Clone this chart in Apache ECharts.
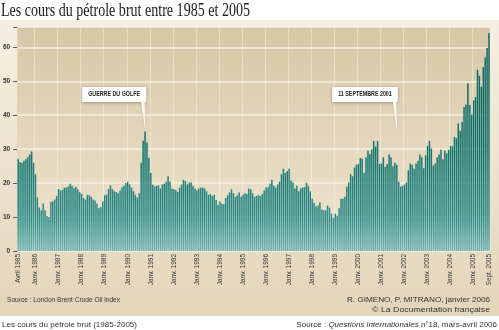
<!DOCTYPE html>
<html><head><meta charset="utf-8">
<script src="https://cdn.jsdelivr.net/npm/echarts@6/dist/echarts.min.js"></script>
<style>html,body{margin:0;padding:0;background:#fff}#c{width:499px;height:330px}</style>
</head><body><div id="c"></div>
<script>
// ---- data ----
const monthNames = ['Janv.','Févr.','Mars','Avril','Mai','Juin','Juil.','Août','Sept.','Oct.','Nov.','Déc.'];
const startYear = 1985, startMonth = 3; // Avril 1985
const y1985 = [27.2, 26.2, 26.0, 26.6, 27.0, 27.6, 28.4, 29.3, 26.0]; // Apr-Dec
const y1986 = [22.6, 15.8, 12.8, 12.0, 14.0, 12.0, 10.3, 10.0, 14.5, 14.6, 15.2, 16.2];
const y1987 = [18.3, 17.8, 18.0, 18.6, 18.7, 19.0, 19.8, 19.2, 18.5, 18.9, 18.2, 17.3];
const y1988 = [16.8, 15.6, 15.2, 16.6, 16.4, 16.0, 15.2, 14.9, 14.0, 12.6, 13.0, 14.6];
const y1989 = [16.4, 16.6, 18.2, 19.4, 18.2, 17.6, 17.4, 17.0, 17.8, 18.8, 19.2, 20.0];
const y1990 = [20.4, 19.6, 18.6, 17.6, 16.6, 15.8, 17.0, 26.0, 32.5, 35.2, 32.0, 27.5];
const y1991 = [23.0, 19.5, 19.0, 19.2, 19.3, 18.4, 19.6, 19.8, 20.4, 22.0, 20.4, 18.4];
const y1992 = [18.2, 18.0, 17.4, 18.6, 19.6, 21.0, 20.6, 19.6, 20.2, 20.2, 19.2, 18.4];
const y1993 = [17.8, 18.4, 18.6, 18.6, 18.4, 17.6, 16.6, 16.8, 16.2, 16.6, 15.0, 13.6];
const y1994 = [14.6, 14.0, 13.8, 15.6, 16.4, 17.2, 18.2, 17.0, 16.0, 16.4, 17.2, 16.0];
const y1995 = [16.6, 17.0, 16.8, 18.4, 18.2, 17.0, 16.0, 16.2, 16.6, 16.2, 16.8, 17.8];
const y1996 = [18.8, 18.8, 19.8, 21.0, 19.2, 18.6, 19.6, 20.4, 22.6, 24.2, 23.0, 23.6];
const y1997 = [24.2, 20.8, 20.2, 18.4, 19.2, 17.6, 18.4, 18.8, 18.8, 20.2, 19.2, 17.6];
const y1998 = [15.4, 14.2, 13.2, 13.4, 14.4, 12.2, 12.0, 12.0, 13.4, 12.8, 11.0, 9.8];
const y1999 = [11.0, 10.4, 12.6, 15.4, 15.4, 16.0, 19.0, 20.2, 22.6, 22.0, 24.6, 25.4];
const y2000 = [25.6, 27.4, 27.2, 23.0, 27.6, 29.6, 28.6, 30.0, 32.4, 30.8, 32.4, 25.6];
const y2001 = [25.8, 27.6, 24.8, 25.6, 28.4, 27.6, 25.0, 26.0, 25.4, 20.4, 19.0, 19.2];
const y2002 = [19.6, 20.2, 23.8, 25.8, 25.4, 24.2, 25.8, 26.6, 28.4, 27.6, 24.4, 28.2];
const y2003 = [31.0, 32.4, 30.2, 25.2, 25.8, 27.6, 28.4, 29.8, 27.0, 29.6, 28.8, 29.8];
const y2004 = [31.0, 30.8, 33.6, 33.2, 37.6, 35.4, 38.0, 42.4, 43.2, 49.4, 43.0, 40.2];
const y2005 = [44.4, 45.4, 53.4, 51.6, 48.4, 54.2, 57.0, 59.8, 64.2]; // Jan-Sep
const yTicks = [0, 10, 20, 30, 40, 50, 60];
const annotations = [
  { label: 'GUERRE DU GOLFE', month: 'Oct. 1990' },
  { label: '11 SEPTEMBRE 2001', month: 'Sept. 2001' }
];
const titleText = 'Les cours du pétrole brut entre 1985 et 2005';
const sourceText = 'Source : London Brent Crude Oil index';
const authorText = 'R. GIMENO, P. MITRANO, janvier 2006';
const copyText = '© La Documentation française';
const captionText = 'Les cours du pétrole brut (1985-2005)';

// ---- build ----
const prices = [].concat(y1985, y1986, y1987, y1988, y1989, y1990, y1991, y1992, y1993, y1994,
  y1995, y1996, y1997, y1998, y1999, y2000, y2001, y2002, y2003, y2004, y2005);
const categories = prices.map((_, i) => {
  const t = startMonth + i;
  return monthNames[t % 12] + ' ' + (startYear + Math.floor(t / 12));
});
const isJan = i => categories[i].startsWith('Janv.');
const showLabel = i => i === 0 || i === categories.length - 1 || isJan(i);

function measure(text, font) {
  const c = document.createElement('canvas').getContext('2d');
  c.font = font; return c.measureText(text).width;
}

const chart = echarts.init(document.getElementById('c'), null, { renderer: 'canvas' });
const barGrad = new echarts.graphic.LinearGradient(0, 27, 0, 251, [
  { offset: 0, color: '#08625e' }, { offset: 0.55, color: '#0f736e' },
  { offset: 0.85, color: '#2a8a88' }, { offset: 1, color: '#6ab4b6' }
], true);

chart.setOption({
  animation: false,
  backgroundColor: '#ffffff',
  grid: {
    left: 17, right: 9, top: 27, bottom: 79, show: true, borderWidth: 0,
    backgroundColor: new echarts.graphic.LinearGradient(0, 0, 0, 1, [
      { offset: 0, color: '#d7c7a7' }, { offset: 1, color: '#efe5d0' }])
  },
  xAxis: {
    type: 'category', data: categories, boundaryGap: true,
    axisLine: { show: false }, axisTick: { show: false },
    axisLabel: { interval: i => showLabel(i), rotate: 90, fontSize: 6.5, color: '#333',
      margin: 3, fontFamily: 'Liberation Sans' },
    splitLine: { show: true, interval: i => isJan(i),
      lineStyle: { color: 'rgba(255,255,255,0.35)', width: 1 } }
  },
  yAxis: {
    type: 'value', min: 0, max: 66, interval: 10,
    axisLine: { show: false },
    axisTick: { show: true, length: 4, lineStyle: { color: '#555', width: 1 } },
    axisLabel: { fontSize: 6.5, fontWeight: 'bold', color: '#333', margin: 7,
      fontFamily: 'Liberation Sans', formatter: v => yTicks.includes(v) ? String(v) : '' },
    splitLine: { lineStyle: { color: 'rgba(250,244,230,0.85)', width: 1.5 } }
  },
  series: [{ type: 'bar', data: prices, barCategoryGap: '24%', silent: true,
    itemStyle: { color: barGrad } }]
});

// ---- decorations ----
const graphics = [];
graphics.push({ type: 'rect', z: -5, silent: true, shape: { x: 0, y: 20, width: 499, height: 296 },
  style: { fill: new echarts.graphic.LinearGradient(0, 0, 0, 1, [
    { offset: 0, color: '#f6efe2' }, { offset: 1, color: '#e3d5b9' }]) } });

function condensedText(text, x, y, size, family, weight, targetW, align, color, extra) {
  const w = measure(text, (weight || 'normal') + ' ' + size + 'px "' + family + '"');
  const s = targetW ? targetW / w : 1;
  return Object.assign({ type: 'text', x: x, y: y, scaleX: s, z: 10, silent: true,
    style: { text: text, fontSize: size, fontFamily: family, fontWeight: weight || 'normal',
      fill: color || '#333', align: align || 'left', textAlign: align || 'left',
      verticalAlign: 'middle', textVerticalAlign: 'middle' } }, extra || {});
}

graphics.push(condensedText(titleText, 1, 11, 19, 'Liberation Serif', 'normal', 249, 'left', '#1a1a1a'));
graphics.push(condensedText(sourceText, 7, 300, 7, 'Liberation Sans', 'normal', 113, 'left', '#333'));
graphics.push(condensedText(authorText, 490, 300, 8, 'Liberation Sans', 'normal', 143, 'right', '#333'));
graphics.push(condensedText(copyText, 490, 310, 8, 'Liberation Sans', 'normal', 118, 'right', '#333'));
graphics.push(condensedText(captionText, 2, 325, 8, 'Liberation Sans', 'normal', 135, 'left', '#333'));
graphics.push({ type: 'text', x: 497, y: 325, z: 10, silent: true,
  style: { text: '{n|Source : }{i|Questions internationales}{n| n°18, mars-avril 2006}',
    align: 'right', textAlign: 'right', verticalAlign: 'middle', textVerticalAlign: 'middle',
    rich: { n: { fontSize: 8, fontFamily: 'Liberation Sans', fill: '#333', color: '#333' },
            i: { fontSize: 8, fontFamily: 'Liberation Sans', fontStyle: 'italic', fill: '#333', color: '#333' } } } });

annotations.forEach(a => {
  const idx = categories.indexOf(a.month);
  const p = chart.convertToPixel({ seriesIndex: 0 }, [idx, prices[idx]]);
  const boxTop = 87, boxH = 15;
  const fs = 6.5;
  const tw = measure(a.label, 'bold ' + fs + 'px "Liberation Sans"') * 0.82;
  const boxW = tw + 12;
  const right = p[0] + 1, left = right - boxW;
  const tailEnd = Math.min(p[1] - 3, boxTop + boxH + 30);
  graphics.push({ type: 'polygon', z: 9, silent: true,
    shape: { points: [[right - 5, boxTop + boxH - 1], [right - 1.5, boxTop + boxH - 1], [p[0], tailEnd]] },
    style: { fill: '#fbf8f1', shadowBlur: 2, shadowColor: 'rgba(0,0,0,0.25)' } });
  graphics.push({ type: 'rect', z: 9, silent: true,
    shape: { x: left, y: boxTop, width: boxW, height: boxH },
    style: { fill: '#ffffff', shadowBlur: 3, shadowColor: 'rgba(0,0,0,0.3)', shadowOffsetY: 1 } });
  graphics.push({ type: 'polygon', z: 9, silent: true,
    shape: { points: [[right - 5, boxTop + boxH - 1], [right - 1.5, boxTop + boxH - 1], [p[0], tailEnd]] },
    style: { fill: '#fbf8f1' } });
  graphics.push(condensedText(a.label, left + 6, boxTop + boxH / 2, fs, 'Liberation Sans', 'bold', tw, 'left', '#222'));
});

chart.setOption({ graphic: graphics });
</script>
</body></html>
